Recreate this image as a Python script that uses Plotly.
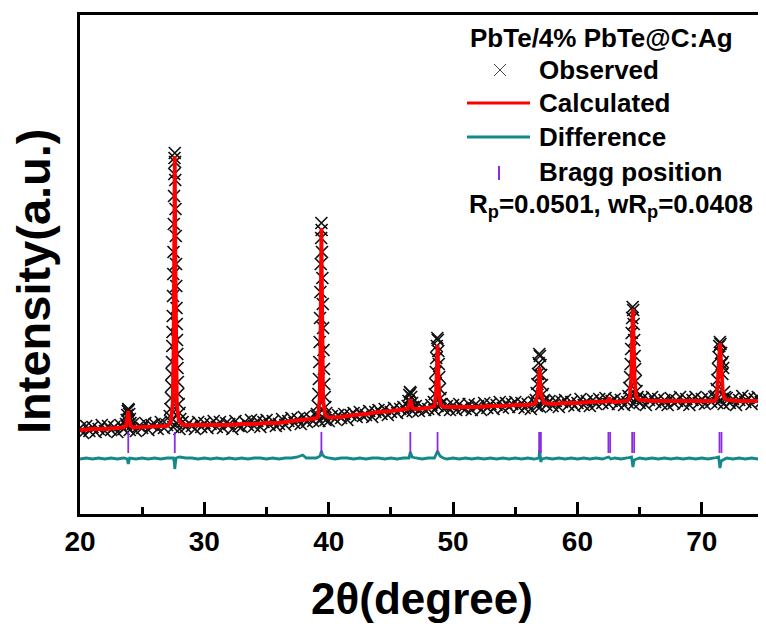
import numpy as np
import plotly.graph_objects as go

# Observed scan, background part: 2theta from 20 to 75 in 0.25 steps
obs_bg_y = [
    86, 81, 88, 83, 87, 82, 85, 89, 83, 88, 84, 87, 82, 89, 85, 88, 84, 90, 83, 88,   # 20-24.75
    86, 91, 84, 89, 90, 85, 92, 86, 89, 93, 87, 91, 85, 92, 87, 91, 88, 85, 92, 87,   # 25-29.75
    91, 86, 90, 93, 87, 92, 86, 91, 90, 85, 93, 88, 87, 92, 89, 94, 88, 93, 87, 92,   # 30-34.75
    94, 89, 93, 88, 90, 95, 89, 93, 96, 91, 95, 90, 97, 92, 96, 93, 98, 93, 97, 94,   # 35-39.75
    93, 98, 95, 99, 96, 100, 94, 99, 101, 97, 102, 98, 99, 103, 97, 102, 104, 100, 105, 99,  # 40-44.75
    102, 106, 101, 105, 107, 102, 106, 103, 108, 103, 107, 104, 105, 109, 104, 108, 110, 105, 108, 104,  # 45-49.75
    109, 104, 110, 106, 105, 110, 104, 109, 108, 104, 111, 106, 110, 105, 109, 112, 106, 111, 107, 110,  # 50-54.75
    112, 107, 111, 106, 110, 105, 112, 108, 107, 112, 109, 113, 108, 113, 107, 112, 114, 109, 112, 108,  # 55-59.75
    111, 115, 109, 113, 108, 114, 110, 115, 111, 116, 110, 113, 115, 110, 114, 109, 112, 116, 110, 115,  # 60-64.75
    111, 116, 109, 114, 117, 112, 115, 110, 114, 109, 116, 111, 113, 117, 110, 115, 109, 114, 117, 111,  # 65-69.75
    115, 110, 116, 112, 117, 111, 114, 110, 116, 111, 115, 109, 114, 118, 112, 116, 110, 115, 117, 112,  # 70-74.75
    114,  # 75
]

# Observed scan, points on the Bragg peaks
obs_pk_x = [
    23.70, 23.75, 23.80, 23.84, 23.88, 23.92, 23.96, 24.01, 24.06,
    27.22, 27.27, 27.32, 27.35, 27.37, 27.40, 27.42, 27.44, 27.46, 27.48, 27.50, 27.52, 27.54, 27.56, 27.58,
    27.60, 27.62, 27.64, 27.66, 27.68, 27.70, 27.72, 27.74, 27.76, 27.78, 27.80, 27.82, 27.84, 27.87, 27.90,
    27.94, 28.00, 28.07,
    39.05, 39.12, 39.17, 39.21, 39.24, 39.27, 39.30, 39.33, 39.36, 39.39, 39.41, 39.43, 39.46, 39.49, 39.52,
    39.55, 39.58, 39.61, 39.64, 39.68, 39.73, 39.80,
    46.35, 46.42, 46.48, 46.53, 46.58, 46.63, 46.70, 46.78,
    48.45, 48.52, 48.57, 48.61, 48.65, 48.69, 48.73, 48.77, 48.81, 48.85, 48.89, 48.94, 49.00, 49.08,
    56.65, 56.72, 56.78, 56.83, 56.88, 56.93, 56.98, 57.03, 57.08, 57.14, 57.21, 57.30,
    64.10, 64.17, 64.23, 64.28, 64.32, 64.36, 64.40, 64.44, 64.48, 64.52, 64.56, 64.60, 64.64, 64.69, 64.75, 64.83,
    71.12, 71.19, 71.25, 71.30, 71.35, 71.40, 71.45, 71.50, 71.55, 71.60, 71.65, 71.68, 71.72, 71.78, 71.86,
]
obs_pk_y = [
    90, 94, 99, 103, 105, 104, 100, 95, 91,
    98, 105, 116, 128, 140, 152, 168, 182, 198, 218, 240, 262, 290, 318, 340,
    356, 361, 352, 334, 305, 278, 250, 228, 206, 190, 174, 160, 146, 132, 120,
    110, 101, 95,
    100, 108, 120, 135, 152, 172, 196, 222, 250, 276, 291, 284, 262, 236, 210,
    186, 164, 145, 130, 117, 107, 101,
    108, 113, 119, 122, 121, 117, 111, 107,
    112, 120, 130, 142, 156, 168, 176, 174, 163, 150, 137, 125, 116, 110,
    114, 121, 130, 140, 151, 160, 158, 149, 139, 129, 120, 114,
    118, 126, 137, 150, 165, 181, 196, 207, 204, 190, 174, 158, 145, 133, 123, 117,
    118, 125, 134, 145, 157, 168, 172, 170, 161, 150, 140, 152, 146, 122, 117,
]

# Calculated profile
calc_x = [20, 21, 22, 23, 23.5, 23.7, 23.8, 23.88, 23.96, 24.06, 24.3,
          25, 26, 27, 27.3, 27.45, 27.52, 27.57, 27.62, 27.67, 27.72, 27.79, 27.95, 28.3,
          29, 30, 31, 32, 33, 34, 35, 36, 37, 38,
          39, 39.15, 39.27, 39.33, 39.37, 39.41, 39.45, 39.49, 39.55, 39.7,
          40, 41, 42, 43, 44, 45, 46,
          46.35, 46.48, 46.56, 46.64, 46.77, 47, 48,
          48.5, 48.62, 48.68, 48.75, 48.82, 48.88, 49.0, 49.3,
          50, 51, 52, 53, 54, 55, 56,
          56.6, 56.82, 56.89, 56.95, 57.01, 57.08, 57.3,
          58, 59, 60, 61, 62,
          62.4, 62.55, 62.7, 63, 64,
          64.2, 64.32, 64.39, 64.46, 64.53, 64.6, 64.72, 65,
          66, 67, 68, 69, 70, 71,
          71.2, 71.32, 71.39, 71.46, 71.53, 71.6, 71.68, 71.8,
          72, 73, 74, 75]
calc_y = [84, 85, 85, 86, 86.5, 88, 95, 103, 95, 88, 86.5,
          87, 87, 88, 92, 110, 160, 250, 358, 250, 160, 110, 93, 89,
          89, 89, 89, 89, 90, 90, 91, 91, 93, 94.5,
          95.5, 98, 115, 160, 230, 286, 230, 160, 115, 99,
          96.5, 97, 99, 100, 102, 103, 104,
          105, 110, 115, 110, 105.5, 105, 106,
          108, 120, 140, 169, 140, 120, 109, 107,
          107, 107, 107, 108, 108, 109, 109,
          110.5, 120, 133, 147, 133, 120, 111,
          110, 111, 111, 112, 112,
          112.5, 116, 112.5, 112, 113,
          116, 135, 170, 205, 170, 135, 117, 114,
          113, 113, 113, 113, 113, 113,
          116, 135, 155, 171, 155, 138, 124, 116,
          114, 113, 113, 113]

# Difference curve
diff_x = [20, 20.5, 21, 21.5, 22, 22.5, 23, 23.5, 23.8, 23.88, 23.96, 24, 24.5, 25, 25.5, 26, 26.5, 27,
          27.5, 27.58, 27.62, 27.66, 27.72, 28, 28.5, 29, 29.5, 30, 30.5, 31, 31.5, 32, 32.5, 33, 33.5,
          34, 34.5, 35, 35.5, 36, 36.5, 37, 37.5, 37.9, 38.2, 38.5, 39, 39.3, 39.41, 39.5, 39.7, 40,
          40.5, 41, 41.5, 42, 42.5, 43, 43.5, 44, 44.5, 45, 45.5, 46, 46.45, 46.56, 46.7, 47, 47.5,
          48, 48.5, 48.75, 48.95, 49.2, 49.5, 50, 50.5, 51, 51.5, 52, 52.5, 53, 53.5, 54, 54.5, 55,
          55.5, 56, 56.5, 56.9, 56.97, 57.05, 57.15, 57.5, 58, 58.5, 59, 59.5, 60, 60.5, 61, 61.5, 62,
          62.5, 62.7, 63, 63.5, 64, 64.35, 64.46, 64.56, 65, 65.5, 66, 66.5, 67, 67.5, 68, 68.5, 69,
          69.5, 70, 70.5, 71, 71.35, 71.46, 71.56, 72, 72.5, 73, 73.5, 74, 74.5, 75]
diff_y = [55, 56, 55, 56, 55, 56, 55, 56, 55, 50, 54, 56, 55, 56, 55, 56, 55, 56,
          56, 52, 45, 49, 56, 57, 56, 56, 55, 56, 55, 56, 55, 56, 55, 56, 55,
          56, 56, 55, 56, 55, 56, 56, 57, 59, 56, 56, 56, 58, 63, 59, 57, 56,
          55, 56, 56, 55, 56, 55, 56, 56, 55, 56, 55, 56, 56, 62, 57, 56, 55,
          56, 56, 63, 58, 56, 55, 56, 55, 56, 55, 56, 55, 56, 55, 56, 55, 56,
          55, 56, 55, 56, 64, 52, 55, 56, 55, 56, 55, 56, 55, 56, 55, 56, 55,
          57, 55, 56, 55, 56, 57, 47, 54, 56, 55, 56, 55, 56, 55, 56, 55, 56,
          55, 56, 55, 56, 57, 46, 53, 56, 55, 56, 55, 56, 55, 56]

# Bragg reflections
bragg_x = [23.88, 27.62, 39.41, 46.56, 48.75, 56.92, 57.06, 62.49, 62.63, 64.40, 64.56, 71.42, 71.58]
bragg_level = 71.5

assert len(obs_bg_y) == 221
assert len(obs_pk_x) == len(obs_pk_y)
assert len(calc_x) == len(calc_y)
assert len(diff_x) == len(diff_y)

obs_bg_x = np.arange(20, 75.001, 0.25)
obs_x = np.concatenate([obs_bg_x, obs_pk_x])
obs_y = np.concatenate([obs_bg_y, obs_pk_y])

FONT = "Arial, Liberation Sans, sans-serif"
RED = "#ff0000"
TEAL = "#138a8a"
PURPLE = "#8b2be2"

fig = go.Figure()

fig.add_trace(go.Scatter(
    x=obs_x, y=obs_y, mode="markers", name="Observed",
    marker=dict(symbol="x-thin", size=12, line=dict(color="#111111", width=1.7)),
))
fig.add_trace(go.Scatter(
    x=calc_x, y=calc_y, mode="lines", name="Calculated",
    line=dict(color=RED, width=3.8),
))
fig.add_trace(go.Scatter(
    x=diff_x, y=diff_y, mode="lines", name="Difference",
    line=dict(color=TEAL, width=2.8),
))
fig.add_trace(go.Scatter(
    x=bragg_x, y=[bragg_level] * len(bragg_x), mode="markers", name="Bragg position",
    marker=dict(symbol="line-ns", size=15, line=dict(color=PURPLE, width=1.8)),
))

# the page puts the figure 8 px from the top-left corner, so work in page pixels
OFF = 8
W, H = 766 - OFF, 632 - OFF
# plot area in page pixels: left 80, right 764, top 15, bottom 514
L, R, T, B = 80, 764, 15, 514


def px(xp):
    return (xp - L) / (R - L)


def py(yp):
    return (B - yp) / (B - T)


annotations = []
shapes = []

legend_font = dict(family=FONT, size=26, color="black", weight="bold")
annotations.append(dict(text="PbTe/4% PbTe@C:Ag", x=px(468), y=py(38), xref="paper", yref="paper",
                        xanchor="left", yanchor="middle", showarrow=False, font=legend_font))
items = [("Observed", 70), ("Calculated", 103), ("Difference", 137), ("Bragg position", 172)]
for label, yy in items:
    annotations.append(dict(text=label, x=px(537), y=py(yy), xref="paper", yref="paper",
                            xanchor="left", yanchor="middle", showarrow=False, font=legend_font))
annotations.append(dict(text="R<sub>p</sub>=0.0501, wR<sub>p</sub>=0.0408", x=px(467), y=py(205),
                        xref="paper", yref="paper", xanchor="left", yanchor="middle",
                        showarrow=False, font=legend_font))

# legend symbols
for dx, dy in [(-6, -6), (-6, 6)]:
    shapes.append(dict(type="line", xref="paper", yref="paper",
                       x0=px(500 + dx), y0=py(70 + dy), x1=px(500 - dx), y1=py(70 - dy),
                       line=dict(color="#444444", width=1)))
shapes.append(dict(type="line", xref="paper", yref="paper", x0=px(467), x1=px(530),
                   y0=py(103), y1=py(103), line=dict(color=RED, width=3)))
shapes.append(dict(type="line", xref="paper", yref="paper", x0=px(467), x1=px(530),
                   y0=py(137), y1=py(137), line=dict(color=TEAL, width=3)))
shapes.append(dict(type="line", xref="paper", yref="paper", x0=px(499), x1=px(499),
                   y0=py(166), y1=py(180), line=dict(color=PURPLE, width=2)))

# y axis title
annotations.append(dict(text="Intensity(a.u.)", x=px(33), y=py(281), xref="paper", yref="paper",
                        xanchor="center", yanchor="middle", textangle=-90, showarrow=False,
                        font=dict(family=FONT, size=47, color="black", weight="bold")))

fig.update_layout(
    width=W, height=H,
    margin=dict(l=L - OFF, r=W + OFF - R, t=T - OFF, b=H + OFF - B, autoexpand=False),
    paper_bgcolor="white", plot_bgcolor="white",
    showlegend=False,
    annotations=annotations,
    shapes=shapes,
)

fig.update_xaxes(
    range=[20, 75], tick0=20, dtick=10, automargin=False,
    ticks="inside", ticklen=12, tickwidth=3, tickcolor="black",
    minor=dict(dtick=5, ticks="inside", ticklen=7, tickwidth=3, tickcolor="black"),
    showline=True, linewidth=3, linecolor="black", mirror=True,
    showgrid=False, zeroline=False,
    tickfont=dict(family=FONT, size=28, color="black", weight="bold"),
    title=dict(text="2θ(degree)", standoff=28,
               font=dict(family=FONT, size=44, color="black", weight="bold")),
)
fig.update_yaxes(
    range=[0, 499], showticklabels=False, ticks="", automargin=False,
    showline=True, linewidth=3, linecolor="black", mirror=True,
    showgrid=False, zeroline=False,
)

fig.write_html("out.html")
